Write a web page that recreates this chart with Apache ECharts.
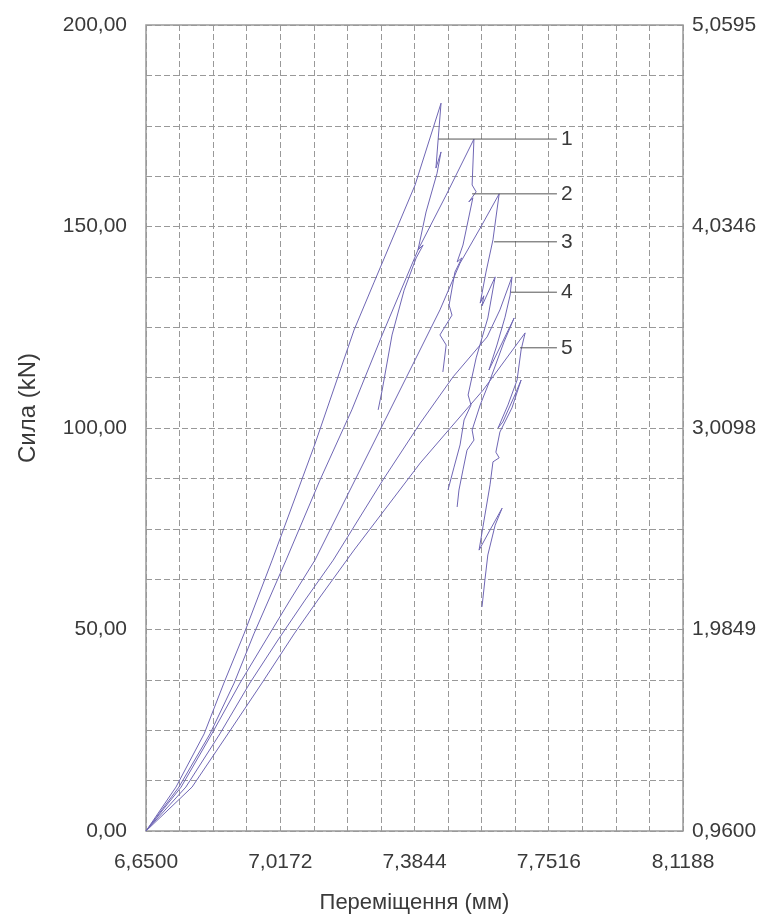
<!DOCTYPE html>
<html>
<head>
<meta charset="utf-8">
<script src="https://cdn.jsdelivr.net/npm/echarts@6/dist/echarts.min.js"></script>
<style>
  html, body { margin: 0; padding: 0; background: #fff; }
  #chart { width: 763px; height: 921px; }
</style>
</head>
<body>
<div id="chart"></div>
<script>
// displacement (mm), force (kN)
var curve1 = [
    [6.650, 0], [6.732, 10.9], [6.809, 24.1], [6.863, 36.7], [6.918, 48.9], [6.995, 67.2],
    [7.112, 96.0], [7.219, 124.3], [7.274, 136.2], [7.386, 160.3], [7.457, 180.6],
    [7.449, 171.5], [7.443, 164.5], [7.457, 168.5], [7.446, 163.2], [7.416, 153.6],
    [7.394, 144.2], [7.408, 145.4], [7.389, 142.2], [7.356, 134.2], [7.323, 123.1],
    [7.296, 109.4], [7.285, 104.5]
];
var curve2 = [
    [6.650, 0], [6.740, 10.9], [6.825, 24.1], [6.891, 36.7], [6.945, 48.9], [7.033, 67.2],
    [7.126, 87.1], [7.213, 104.5], [7.296, 123.1], [7.394, 144.2], [7.471, 157.8], [7.547, 171.7],
    [7.542, 160.3], [7.553, 158.6], [7.533, 156.1], [7.544, 157.1], [7.517, 145.4],
    [7.501, 141.2], [7.514, 142.2], [7.495, 138.7], [7.479, 130.5], [7.487, 128.0],
    [7.454, 123.1], [7.471, 120.6], [7.462, 113.9]
];
var curve3 = [
    [6.650, 0], [6.746, 10.9], [6.830, 24.1], [6.907, 36.7], [6.978, 47.4], [7.044, 57.3],
    [7.112, 67.2], [7.208, 84.6], [7.304, 102.0], [7.386, 116.9], [7.454, 129.3],
    [7.509, 140.9], [7.564, 149.6], [7.616, 158.1],
    [7.607, 152.1], [7.599, 146.7], [7.580, 138.7], [7.564, 131.0], [7.574, 132.8],
    [7.569, 130.3], [7.605, 137.5], [7.585, 127.3], [7.553, 117.4], [7.531, 108.2],
    [7.539, 105.7], [7.520, 102.0], [7.509, 95.8], [7.492, 90.1], [7.476, 84.6]
];
var curve4 = [
    [6.650, 0], [6.759, 10.9], [6.852, 24.1], [6.934, 36.7], [7.011, 47.4], [7.085, 57.3],
    [7.162, 67.2], [7.298, 87.1], [7.400, 101.2], [7.490, 112.7], [7.583, 122.6],
    [7.618, 129.3], [7.651, 137.5],
    [7.646, 133.0], [7.632, 127.5], [7.610, 120.6], [7.588, 114.4], [7.657, 127.3],
    [7.629, 121.3], [7.591, 111.9], [7.564, 105.7], [7.542, 99.5], [7.547, 97.0],
    [7.528, 94.5], [7.517, 89.6], [7.506, 84.6], [7.501, 80.4]
];
var curve5 = [
    [6.650, 0], [6.776, 10.9], [6.874, 24.1], [6.967, 36.7], [7.055, 48.9], [7.120, 57.3],
    [7.219, 69.7], [7.400, 91.3], [7.473, 99.0], [7.572, 109.4], [7.687, 123.6],
    [7.676, 119.4], [7.665, 111.9], [7.640, 105.7], [7.613, 100.0], [7.626, 101.5],
    [7.659, 108.2], [7.676, 111.9], [7.651, 105.0], [7.618, 99.0], [7.607, 94.0],
    [7.616, 92.6], [7.599, 91.6], [7.591, 85.9], [7.577, 78.4], [7.561, 69.7],
    [7.591, 74.7], [7.624, 80.1], [7.605, 75.9], [7.585, 68.5], [7.577, 62.3], [7.569, 55.6]
];

// callout lines 1..5
var leaderNames = ['1', '2', '3', '4', '5'];
var leaderY = [171.7, 158.1, 146.2, 133.7, 119.9];
var leaderStart = [7.449, 7.542, 7.602, 7.648, 7.673];
var leaderEnd = 7.774;

var xLabels = ['6,6500', '7,0172', '7,3844', '7,7516', '8,1188'];
var leftLabels = ['0,00', '50,00', '100,00', '150,00', '200,00'];
var rightLabels = ['0,9600', '1,9849', '3,0098', '4,0346', '5,0595'];

var FONT = 'Liberation Sans, Arial, sans-serif';
var lineColor = '#6f66b4';
var textColor = '#3a3a3a';
var gridDash = {color: '#999', width: 1, type: [6, 3]};

var myChart = echarts.init(document.getElementById('chart'));

var series = [curve1, curve2, curve3, curve4, curve5].map(function (c) {
    return {
        type: 'line',
        data: c,
        showSymbol: false,
        symbol: 'none',
        lineStyle: {color: lineColor, width: 1},
        z: 3
    };
});

leaderNames.forEach(function (name, i) {
    series.push({
        type: 'line',
        data: [[leaderStart[i], leaderY[i]], [leaderEnd, leaderY[i]]],
        symbol: 'none',
        lineStyle: {color: '#555', width: 1},
        endLabel: {
            show: true,
            formatter: name,
            fontFamily: FONT,
            fontSize: 21,
            color: textColor,
            distance: 4
        },
        z: 4
    });
});

option = {
    animation: false,
    backgroundColor: '#fff',
    grid: {
        left: 146, right: 80, top: 25, bottom: 90,
        show: true,
        borderColor: '#999',
        borderWidth: 1.5
    },
    xAxis: {
        type: 'value',
        min: 6.65,
        max: 8.1188,
        interval: 0.3672,
        name: 'Переміщення (мм)',
        nameLocation: 'middle',
        nameGap: 61,
        nameTextStyle: {fontFamily: FONT, fontSize: 22, color: textColor},
        axisLine: {show: false},
        axisTick: {show: false},
        minorTick: {show: false, splitNumber: 4},
        axisLabel: {
            margin: 21,
            fontFamily: FONT, fontSize: 21, color: textColor,
            formatter: function (v, i) { return xLabels[i]; }
        },
        splitLine: {show: true, lineStyle: gridDash},
        minorSplitLine: {show: true, lineStyle: gridDash}
    },
    yAxis: [{
        type: 'value',
        min: 0,
        max: 200,
        interval: 50,
        name: 'Сила (kN)',
        nameLocation: 'middle',
        nameGap: 106,
        nameTextStyle: {fontFamily: FONT, fontSize: 24, color: textColor, padding: [0, 0, 0, 40]},
        axisLine: {show: false},
        axisTick: {show: false},
        minorTick: {show: false, splitNumber: 4},
        axisLabel: {
            margin: 19,
            fontFamily: FONT, fontSize: 21, color: textColor,
            formatter: function (v, i) { return leftLabels[i]; }
        },
        splitLine: {show: true, lineStyle: gridDash},
        minorSplitLine: {show: true, lineStyle: gridDash}
    }, {
        type: 'value',
        position: 'right',
        min: 0.96,
        max: 5.0595,
        interval: 1.024875,
        axisLine: {show: false},
        axisTick: {show: false},
        axisLabel: {
            margin: 9,
            fontFamily: FONT, fontSize: 21, color: textColor,
            formatter: function (v, i) { return rightLabels[i]; }
        },
        splitLine: {show: false}
    }],
    series: series
};

myChart.setOption(option);
</script>
</body>
</html>
